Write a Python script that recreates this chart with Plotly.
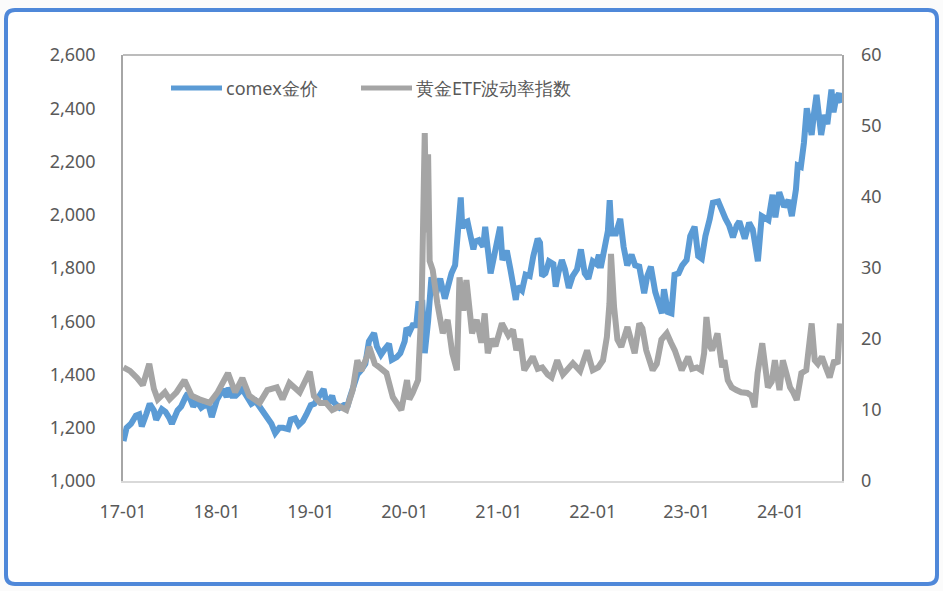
import plotly.graph_objects as go

# ---------------- data ----------------
gold_dates = [
    "2017-01-03","2017-01-15","2017-02-01","2017-02-20","2017-03-05","2017-03-15","2017-04-01","2017-04-15",
    "2017-05-01","2017-05-10","2017-06-01","2017-06-15","2017-07-01","2017-07-10","2017-08-01","2017-08-15",
    "2017-09-01","2017-09-10","2017-10-01","2017-10-15","2017-11-01","2017-11-15","2017-12-01","2017-12-12",
    "2018-01-01","2018-01-25","2018-02-08","2018-02-15","2018-03-01","2018-03-15","2018-04-10","2018-04-25",
    "2018-05-15","2018-06-01","2018-06-15","2018-07-01","2018-07-15","2018-08-01","2018-08-16","2018-09-01",
    "2018-09-15","2018-10-05","2018-10-15","2018-11-01","2018-11-15","2018-12-01","2018-12-15",
    "2019-01-01","2019-01-15","2019-02-01","2019-02-20","2019-03-05","2019-03-25","2019-04-01","2019-04-23",
    "2019-05-10","2019-05-25","2019-06-01","2019-06-15","2019-07-01","2019-07-15","2019-08-01","2019-08-15",
    "2019-09-04","2019-09-15","2019-10-01","2019-10-15","2019-11-01","2019-11-12","2019-12-01","2019-12-15",
    "2020-01-01","2020-01-08","2020-01-20","2020-02-01","2020-02-15","2020-02-24","2020-03-01","2020-03-09",
    "2020-03-19","2020-04-01","2020-04-14","2020-05-01","2020-05-18","2020-06-05","2020-06-15","2020-07-01",
    "2020-07-15","2020-08-01","2020-08-06","2020-08-12","2020-08-20","2020-09-01","2020-09-24","2020-10-01",
    "2020-10-15","2020-11-01","2020-11-09","2020-11-30","2020-12-15",
    "2021-01-06","2021-01-15","2021-02-01","2021-02-15","2021-03-08","2021-03-15","2021-04-01","2021-04-15",
    "2021-05-01","2021-05-15","2021-06-01","2021-06-10","2021-06-18","2021-07-01","2021-07-15","2021-08-01",
    "2021-08-10","2021-08-20","2021-09-03","2021-09-15","2021-09-30","2021-10-15","2021-11-01","2021-11-16",
    "2021-12-01","2021-12-15",
    "2022-01-01","2022-01-15","2022-01-25","2022-02-01","2022-02-15","2022-03-01","2022-03-08","2022-03-15",
    "2022-04-01","2022-04-18","2022-05-01","2022-05-15","2022-06-01","2022-06-15","2022-07-01","2022-07-20",
    "2022-08-01","2022-08-15","2022-09-01","2022-09-27","2022-10-05","2022-10-20","2022-11-03","2022-11-15",
    "2022-12-01","2022-12-15",
    "2023-01-01","2023-01-15","2023-02-01","2023-02-15","2023-03-01","2023-03-15","2023-04-01","2023-04-13",
    "2023-05-04","2023-05-15","2023-06-01","2023-06-15","2023-06-30","2023-07-15","2023-07-25","2023-08-15",
    "2023-09-01","2023-09-15","2023-10-05","2023-10-20","2023-11-01","2023-11-15","2023-12-01","2023-12-12",
    "2023-12-27",
    "2024-01-15","2024-02-01","2024-02-14","2024-03-01","2024-03-08","2024-03-20","2024-04-01","2024-04-12",
    "2024-04-22","2024-05-01","2024-05-10","2024-05-20","2024-06-01","2024-06-07","2024-06-20","2024-07-01",
    "2024-07-17","2024-07-25","2024-08-05","2024-08-15","2024-08-25",
]
gold_price = [
    1150,1200,1215,1245,1250,1205,1250,1290,
    1265,1230,1270,1260,1235,1215,1265,1280,
    1315,1330,1280,1300,1275,1285,1280,1240,
    1305,1345,1315,1350,1320,1320,1345,1325,
    1290,1300,1280,1250,1230,1215,1180,1200,
    1200,1195,1230,1235,1210,1225,1250,
    1285,1290,1320,1345,1285,1320,1295,1275,
    1285,1285,1310,1350,1400,1415,1440,1525,
    1555,1505,1475,1495,1515,1455,1465,1480,
    1525,1575,1560,1585,1585,1675,1595,1680,
    1480,1600,1765,1700,1760,1685,1730,1780,
    1810,1985,2065,1950,1970,1975,1870,1900,
    1905,1880,1955,1780,1850,
    1955,1830,1865,1795,1680,1730,1715,1775,
    1770,1845,1910,1895,1770,1780,1825,1815,
    1730,1780,1830,1795,1725,1770,1795,1870,
    1780,1760,
    1825,1815,1850,1800,1860,1940,2055,1930,
    1930,1985,1880,1810,1850,1810,1805,1705,
    1770,1805,1710,1630,1720,1635,1630,1775,
    1780,1810,
    1830,1920,1955,1845,1835,1920,1985,2045,
    2050,2020,1985,1960,1915,1960,1975,1910,
    1970,1945,1825,1995,1985,1980,2075,1990,
    2085,
    2030,2055,1995,2095,2185,2180,2270,2400,
    2335,2300,2380,2450,2350,2300,2375,2340,
    2470,2385,2440,2455,2420,
]

vol_dates = [
    "2017-01-03","2017-01-28","2017-02-25","2017-03-19","2017-04-13","2017-05-01","2017-05-16","2017-06-13",
    "2017-07-01","2017-07-28","2017-08-28","2017-09-25","2017-10-25","2017-12-04",
    "2018-01-04","2018-02-13","2018-03-13","2018-04-10","2018-05-07","2018-06-16","2018-07-16","2018-08-22",
    "2018-09-13","2018-10-10","2018-11-19","2018-12-28",
    "2019-01-13","2019-02-07","2019-03-01","2019-03-25","2019-04-22","2019-05-19","2019-06-13","2019-07-01",
    "2019-07-16","2019-08-07","2019-08-16","2019-09-07","2019-09-25","2019-10-22","2019-11-16","2019-12-01",
    "2019-12-19",
    "2020-01-10","2020-01-19","2020-02-01","2020-02-22","2020-03-07","2020-03-19","2020-03-25","2020-04-01",
    "2020-04-07","2020-04-19","2020-05-07","2020-05-28","2020-06-16","2020-07-04","2020-07-22","2020-08-01",
    "2020-08-16","2020-08-28","2020-09-19","2020-10-07","2020-10-25","2020-11-07","2020-11-19","2020-12-04",
    "2020-12-19",
    "2021-01-13","2021-02-07","2021-02-25","2021-03-10","2021-03-25","2021-04-10","2021-05-01","2021-05-13",
    "2021-06-01","2021-06-19","2021-07-10","2021-07-25","2021-08-16","2021-09-07","2021-09-22","2021-10-16",
    "2021-11-13","2021-12-10",
    "2022-01-01","2022-01-22","2022-02-10","2022-02-25","2022-03-07","2022-03-13","2022-03-25","2022-04-07",
    "2022-04-22","2022-05-16","2022-06-13","2022-07-01","2022-07-13","2022-07-28","2022-08-22","2022-09-07",
    "2022-09-25","2022-10-16","2022-11-01","2022-11-16","2022-12-13",
    "2023-01-07","2023-01-22","2023-02-10","2023-02-27","2023-03-10","2023-03-19","2023-04-01","2023-04-10",
    "2023-05-01","2023-05-19","2023-05-28","2023-06-10","2023-06-25","2023-07-13","2023-08-01","2023-08-25",
    "2023-09-10","2023-09-22","2023-10-04","2023-10-22","2023-11-04","2023-11-13","2023-11-28","2023-12-10",
    "2023-12-28",
    "2024-01-10","2024-01-25","2024-02-07","2024-02-19","2024-03-04","2024-03-22","2024-04-10","2024-05-01",
    "2024-05-13","2024-05-25","2024-06-10","2024-06-25","2024-07-10","2024-07-28","2024-08-10","2024-08-19",
]
vol_index = [
    16.0,15.5,14.5,13.5,16.5,13.0,11.5,12.5,
    11.5,12.5,14.2,12.0,11.5,11.0,
    12.5,15.2,12.5,14.5,12.0,11.0,12.8,13.2,
    11.5,13.8,12.5,15.4,
    12.0,11.0,11.0,10.0,10.5,10.0,12.8,17.0,
    15.5,17.5,18.9,16.5,16.0,15.2,11.8,11.0,
    10.0,
    14.2,11.5,12.4,14.2,25.0,49.0,35.0,46.0,
    31.0,29.7,25.0,20.8,22.7,18.0,15.6,28.7,
    24.0,28.3,20.8,22.7,19.5,23.6,18.0,20.0,
    19.0,
    22.2,20.5,21.3,18.4,20.0,15.6,17.0,17.5,
    15.8,16.0,15.0,14.6,17.0,15.0,15.6,16.6,
    15.5,18.4,
    15.6,16.0,17.0,20.3,25.0,32.0,24.5,19.9,
    18.9,21.7,18.0,22.2,21.5,18.4,15.6,16.5,
    19.9,20.8,19.5,18.4,15.6,
    17.5,15.8,16.0,15.6,18.0,23.1,19.0,18.4,
    20.8,16.0,17.0,14.2,13.2,12.8,12.5,12.4,
    12.0,10.4,15.2,19.4,16.0,13.2,14.0,17.0,
    12.8,
    17.0,15.0,13.2,12.5,11.4,15.2,15.6,22.2,
    17.0,16.5,17.5,16.0,14.6,17.0,16.5,22.2,
]

series_names = ["comex金价", "黄金ETF波动率指数"]
tick_dates = ["2017-01-01","2018-01-01","2019-01-01","2020-01-01",
              "2021-01-01","2022-01-01","2023-01-01","2024-01-01"]
tick_labels = ["17-01","18-01","19-01","20-01","21-01","22-01","23-01","24-01"]

BLUE = "#5b9bd5"
GRAY = "#a5a5a5"
TXT = "#595959"
FONT = "Noto Sans"

fig = go.Figure()
fig.add_trace(go.Scatter(x=gold_dates, y=gold_price, name=series_names[0], mode="lines",
                         line=dict(color=BLUE, width=6), yaxis="y", showlegend=False))
fig.add_trace(go.Scatter(x=vol_dates, y=vol_index, name=series_names[1], mode="lines",
                         line=dict(color=GRAY, width=6), yaxis="y2", showlegend=False))

W, H = 943, 591
L, R, T, B = 123, 101, 55, 110
pw, ph = W - L - R, H - T - B

def px_x(x):
    return (x - L) / pw

def px_y(y):
    return (H - B - y) / ph

shapes = []
# card with rounded blue border (pixel path anchored at plot bottom-left)
x0, x1, y0, y1, r = 6 - L, 937 - L, (H - B) - 10, (H - B) - 584, 9
path = (f"M {x0+r},{y0} L {x1-r},{y0} Q {x1},{y0} {x1},{y0-r} "
        f"L {x1},{y1+r} Q {x1},{y1} {x1-r},{y1} L {x0+r},{y1} Q {x0},{y1} {x0},{y1+r} "
        f"L {x0},{y0-r} Q {x0},{y0} {x0+r},{y0} Z")
shapes.append(dict(type="path", xref="paper", yref="paper", xsizemode="pixel", ysizemode="pixel",
                   xanchor=0, yanchor=0, path=path, fillcolor="white",
                   line=dict(color="#4f88d9", width=4), layer="below"))
# top border of plot area
shapes.append(dict(type="line", xref="paper", yref="paper", x0=0, x1=1, y0=1, y1=1,
                   line=dict(color="#a6a6a6", width=1.5)))
# legend lines
ly = px_y(88)
shapes.append(dict(type="line", xref="paper", yref="paper", x0=px_x(171), x1=px_x(222), y0=ly, y1=ly,
                   line=dict(color=BLUE, width=5)))
shapes.append(dict(type="line", xref="paper", yref="paper", x0=px_x(361), x1=px_x(412), y0=ly, y1=ly,
                   line=dict(color=GRAY, width=5)))

annotations = [
    dict(text=series_names[0], xref="paper", yref="paper", x=px_x(224), y=ly, xanchor="left",
         yanchor="middle", showarrow=False, font=dict(family=FONT, size=18, color=TXT)),
    dict(text=series_names[1], xref="paper", yref="paper", x=px_x(414), y=ly, xanchor="left",
         yanchor="middle", showarrow=False, font=dict(family=FONT, size=18, color=TXT)),
]

fig.update_layout(
    width=W, height=H,
    margin=dict(l=L, r=R, t=T, b=B, pad=0),
    paper_bgcolor="#fbfbfb",
    plot_bgcolor="rgba(0,0,0,0)",
    font=dict(family=FONT, size=18, color=TXT),
    shapes=shapes,
    annotations=annotations,
    xaxis=dict(type="date", range=["2017-01-01", "2024-08-27"], tickvals=tick_dates, ticktext=tick_labels,
               showgrid=False, zeroline=False, showline=True, linecolor="#d9d9d9", linewidth=1.5,
               ticks="", ticklabelstandoff=14, tickfont=dict(family=FONT, size=18, color=TXT)),
    yaxis=dict(range=[1000, 2600], dtick=200, tickformat=",", showgrid=False, zeroline=False,
               showline=True, linecolor="#a6a6a6", linewidth=1.5, mirror=True, ticks="",
               ticklabelstandoff=22, tickfont=dict(family=FONT, size=18, color=TXT)),
    yaxis2=dict(range=[0, 60], dtick=10, overlaying="y", side="right", showgrid=False, zeroline=False,
                showline=False, ticks="", ticklabelstandoff=18,
                tickfont=dict(family=FONT, size=18, color=TXT)),
)

fig.write_html("out.html", config={"displayModeBar": False},
               post_script="document.body.style.margin='0';document.body.style.overflow='hidden';")
